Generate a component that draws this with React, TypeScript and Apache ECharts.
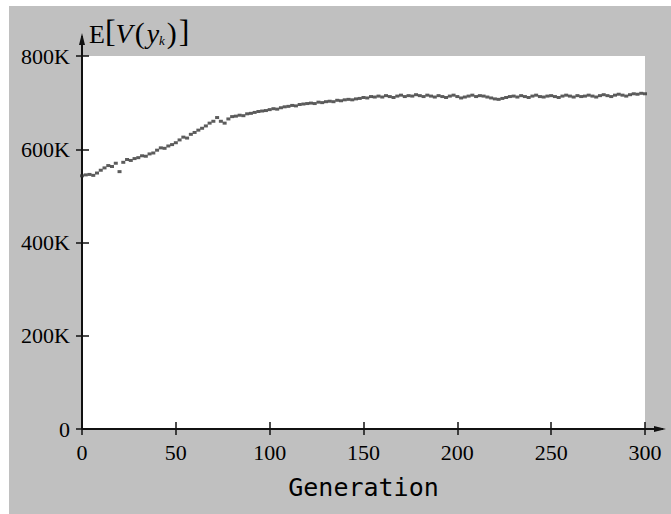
import React, { useEffect, useRef } from "react";
import * as echarts from "echarts";

// Generations sampled every 2 steps (0..300)
const generations: number[] = [];
for (let g = 0; g <= 300; g += 2) generations.push(g);

// E[V(y_k)] values in thousands (one per generation above)
const valuesK: number[] = [
  543, 545, 546, 544, 549, 555, 560, 565, 563, 570,
  552, 572, 578, 576, 580, 582, 586, 585, 590, 592,
  598, 603, 602, 607, 610, 614, 620, 626, 624, 632,
  636, 641, 645, 650, 656, 660, 668, 660, 656, 665,
  670, 671, 673, 672, 676, 677, 679, 681, 682, 683,
  685, 687, 686, 689, 691, 692, 694, 693, 696, 697,
  698, 699, 698, 701, 700, 702, 703, 702, 705, 704,
  706, 707, 706, 708, 709, 711, 710, 713, 712, 714,
  712, 715, 713, 711, 714, 716, 713, 715, 714, 717,
  715, 713, 716, 714, 712, 715, 713, 711, 714, 716,
  713, 710, 712, 714, 716, 713, 715, 714, 712, 710,
  708, 707, 709, 711, 713, 714, 712, 715, 713, 711,
  714, 716, 713, 712, 714, 715, 713, 711, 714, 716,
  714, 712, 715, 713, 714, 716, 714, 712, 715, 717,
  715, 713, 716, 718, 716, 714, 717, 719, 718, 720,
  719,
];

const xTicks = [0, 50, 100, 150, 200, 250, 300];
const yMax = 800000;
const yInterval = 200000;

const serif = "'Liberation Serif', 'Times New Roman', serif";

export default function App() {
  const ref = useRef<HTMLDivElement>(null);

  useEffect(() => {
    if (!ref.current) return;
    const chart = echarts.init(ref.current, undefined, { renderer: "svg" });
    const data = generations.map((g, i) => [g, valuesK[i] * 1000]);

    const yLabel = (v: number) => (v === 0 ? "0" : `${v / 1000}K`);

    const baseX = {
      type: "value" as const,
      min: xTicks[0],
      max: xTicks[xTicks.length - 1],
      interval: 50,
      splitLine: { show: false },
      axisLine: { show: false },
    };
    const baseY = {
      type: "value" as const,
      min: 0,
      max: yMax,
      interval: yInterval,
      position: "left" as const,
      splitLine: { show: false },
      axisLine: { show: false },
    };

    chart.setOption({
      animation: false,
      backgroundColor: "#c0c0c0",
      grid: {
        left: 73,
        top: 50,
        width: 563,
        height: 373,
        show: true,
        backgroundColor: "#ffffff",
        borderWidth: 0,
      },
      xAxis: [
        {
          ...baseX,
          name: "Generation",
          nameLocation: "middle",
          nameGap: 46,
          nameTextStyle: {
            fontFamily: "'DejaVu Sans Mono', monospace",
            fontSize: 25,
            color: "#000",
          },
          axisTick: { show: true, inside: false, length: 6, lineStyle: { color: "#111", width: 1.5 } },
          axisLabel: {
            margin: 12,
            fontFamily: serif,
            fontSize: 22,
            color: "#000",
          },
        },
        {
          ...baseX,
          position: "bottom",
          axisTick: { show: true, inside: true, length: 7, lineStyle: { color: "#111", width: 1.5 } },
          axisLabel: { show: false },
        },
      ],
      yAxis: [
        {
          ...baseY,
          axisTick: { show: true, inside: false, length: 6, lineStyle: { color: "#111", width: 1.5 } },
          axisLabel: {
            margin: 12,
            fontFamily: serif,
            fontSize: 22,
            color: "#000",
            formatter: yLabel,
          },
        },
        {
          ...baseY,
          axisTick: { show: true, inside: true, length: 7, lineStyle: { color: "#111", width: 1.5 } },
          axisLabel: { show: false },
        },
      ],
      series: [
        {
          type: "scatter",
          xAxisIndex: 0,
          yAxisIndex: 0,
          data,
          symbol: "rect",
          symbolSize: [4, 3],
          itemStyle: { color: "#333", opacity: 0.8 },
        },
      ],
      graphic: [
        {
          type: "line",
          shape: { x1: 73, y1: 423, x2: 654, y2: 423 },
          style: { stroke: "#111", lineWidth: 2 },
        },
        {
          type: "polygon",
          shape: { points: [[645, 420], [657, 423], [645, 426]] },
          style: { fill: "#111" },
        },
        {
          type: "line",
          shape: { x1: 73, y1: 423, x2: 73, y2: 30 },
          style: { stroke: "#111", lineWidth: 2 },
        },
        {
          type: "polygon",
          shape: { points: [[70, 39], [73, 27], [76, 39]] },
          style: { fill: "#111" },
        },
        {
          type: "text",
          x: 80,
          y: 10,
          style: {
            text: "{e|E}{b|[}{v|V}{p|(}{y|y}{k|k}{p|)}{b|]}",
            rich: {
              e: { fontFamily: serif, fontSize: 26, fill: "#000", verticalAlign: "bottom", lineHeight: 31 },
              b: { fontFamily: serif, fontSize: 32, fill: "#000", verticalAlign: "bottom", lineHeight: 31 },
              v: { fontFamily: serif, fontSize: 28, fontStyle: "italic", fill: "#000", verticalAlign: "bottom", lineHeight: 31 },
              p: { fontFamily: serif, fontSize: 30, fill: "#000", verticalAlign: "bottom", lineHeight: 31, padding: [0, 2, 0, 2] },
              y: { fontFamily: serif, fontSize: 28, fontStyle: "italic", fill: "#000", verticalAlign: "bottom", lineHeight: 31 },
              k: { fontFamily: serif, fontSize: 13, fontStyle: "italic", fill: "#000", verticalAlign: "bottom", lineHeight: 31 },
            },
          },
        },
      ],
    });
    return () => chart.dispose();
  }, []);

  return (
    <div
      ref={ref}
      style={{ position: "fixed", left: 9, top: 6, width: 662, height: 508 }}
    />
  );
}
